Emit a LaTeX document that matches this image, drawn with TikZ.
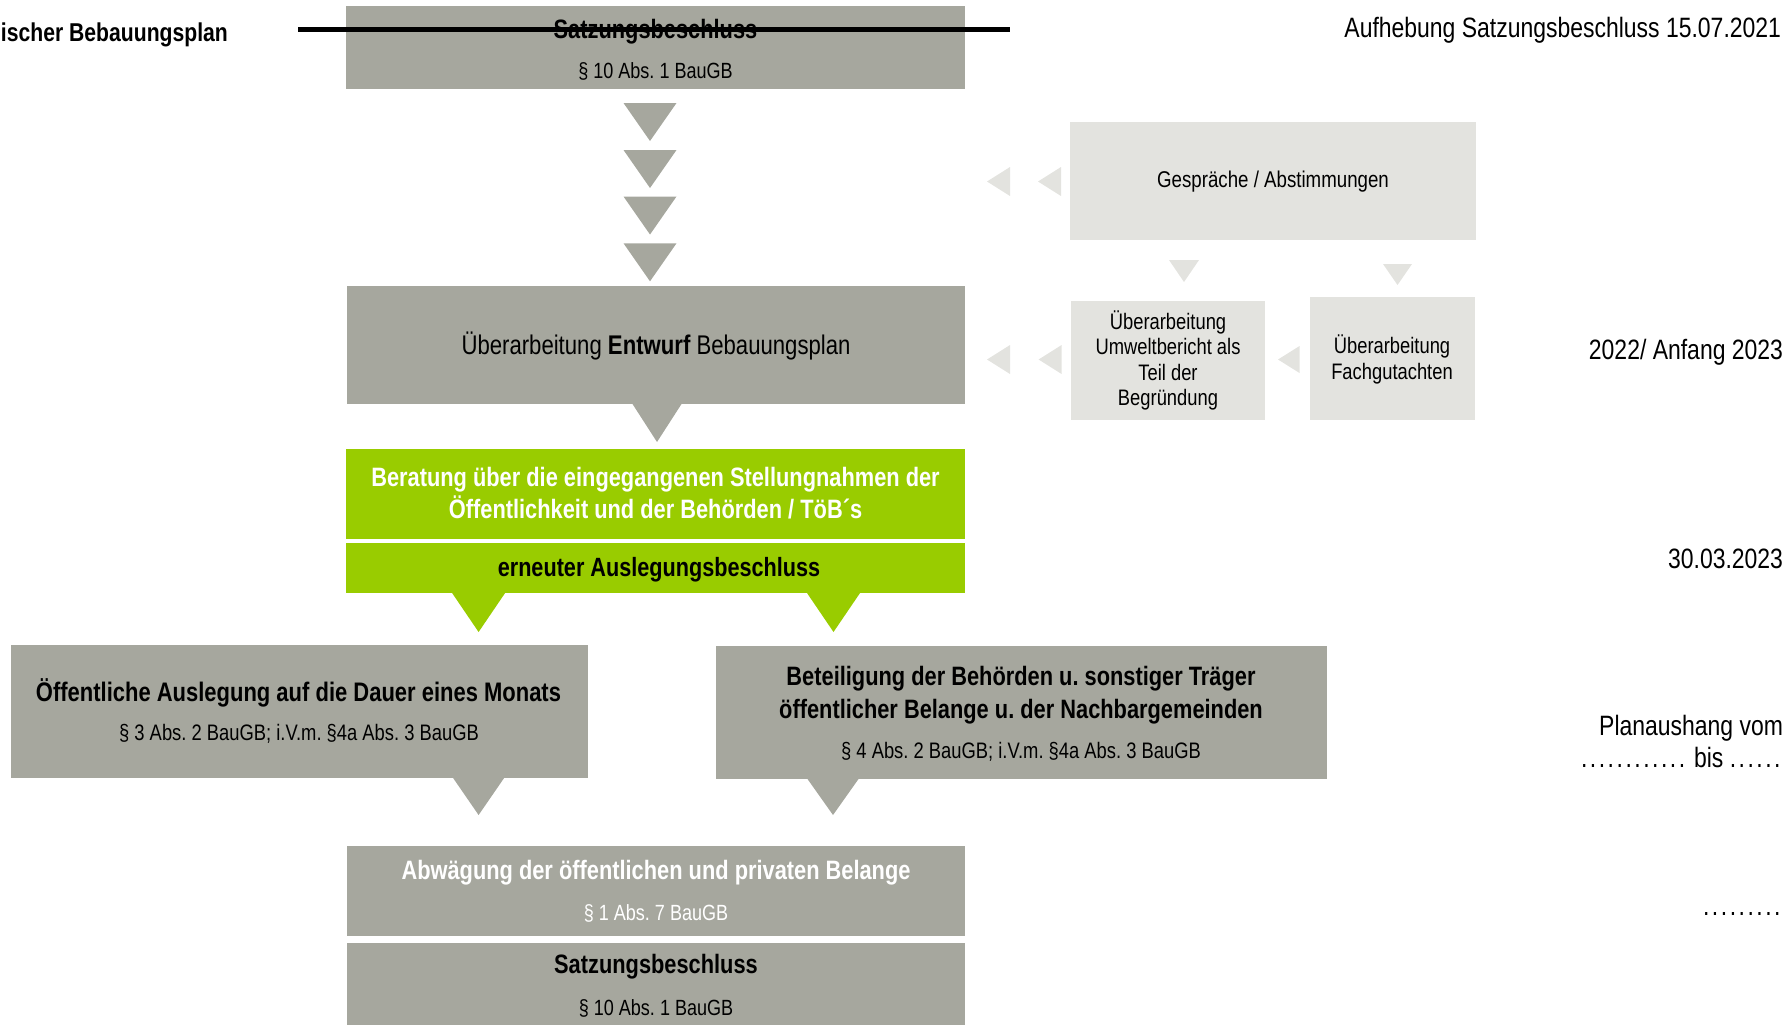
\documentclass[tikz,border=0pt]{standalone}
\usepackage{fontspec}
\setmainfont{Liberation Sans}[FakeStretch=0.82]
\definecolor{boxgray}{RGB}{166,167,158}
\definecolor{grn}{RGB}{153,204,0}
\definecolor{lightg}{RGB}{227,227,223}
\newcommand\dtri[5]{\fill[#1] (#2-#4/2,#3) -- (#2+#4/2,#3) -- (#2,#3+#5) -- cycle;}
\newcommand\ltri[5]{\fill[#1] (#2,#3) -- (#4,#3-#5/2) -- (#4,#3+#5/2) -- cycle;}
\newcommand\dt{.\kern1.25pt}
\begin{document}
\frenchspacing
\begin{tikzpicture}[x=0.5pt,y=-0.5pt,
  every node/.style={inner sep=0pt, outer sep=0pt},
  gb/.style={fill=boxgray},
  gr/.style={fill=grn},
  lb/.style={fill=lightg},
  bt/.style={font=\fontsize{13.3}{16}\selectfont\bfseries, align=center},
  st/.style={font=\fontsize{11}{13}\selectfont, align=center},
  lt/.style={font=\fontsize{11.2}{12.75}\selectfont, align=center},
  rt/.style={font=\fontsize{14}{16}\selectfont, anchor=east, align=right}]
\useasboundingbox (0,0) rectangle (1791,1025);

% top struck box
\node[gb, minimum width=309.5pt, minimum height=41.5pt] (sb1) at (655.5,47.5) {};
\node[bt] (sb1t) at (655.5,31.5) {Satzungsbeschluss};
\node[st] (sb1p) at (655.5,71) {§ 10 Abs. 1 BauGB};
\coordinate (strikeL) at (298,29);
\coordinate (strikeR) at (1010,29);
\draw[line width=2.5pt] (strikeL) -- (strikeR);

\node[bt, font=\fontsize{12.9}{16}\selectfont\bfseries, anchor=west] (title) at (1,34.5) {ischer Bebauungsplan};
\node[rt] (auf) at (1781,30) {Aufhebung Satzungsbeschluss 15.07.2021};

% arrow column
\dtri{boxgray}{650}{103}{53}{38}
\dtri{boxgray}{650}{150}{53}{38}
\dtri{boxgray}{650}{196.5}{53}{38}
\dtri{boxgray}{650}{243.3}{53}{38}

% Entwurf
\node[gb, minimum width=309pt, minimum height=59pt] (entw) at (656,345) {};
\node[font=\fontsize{13.5}{16}\selectfont] (entwt) at (656,346) {Überarbeitung \textbf{Entwurf} Bebauungsplan};
\dtri{boxgray}{657}{404}{49}{38}

% green boxes
\node[gr, minimum width=309.5pt, minimum height=45pt] (ber) at (655.5,494) {};
\node[bt, text=white] (bert) at (655.5,493.5) {Beratung über die eingegangenen Stellungnahmen der\\Öffentlichkeit und der Behörden / TöB´s};
\node[gr, minimum width=309.5pt, minimum height=25.25pt] (aus) at (655.5,567.75) {};
\node[bt, font=\fontsize{13.2}{16}\selectfont\bfseries] (aust) at (659,569.5) {erneuter Auslegungsbeschluss};
\dtri{grn}{478.6}{593}{53}{39}
\dtri{grn}{833.5}{593}{53}{39}

% second row
\node[gb, minimum width=288.5pt, minimum height=66.5pt] (oeff) at (299.5,711.5) {};
\node[bt, font=\fontsize{13.4}{16}\selectfont\bfseries] (oefft) at (298.5,693) {Öffentliche Auslegung auf die Dauer eines Monats};
\node[st, font=\fontsize{11.2}{13}\selectfont] (oeffp) at (299,734) {§ 3 Abs. 2 BauGB; i.V.m. §4a Abs. 3 BauGB};
\node[gb, minimum width=305.5pt, minimum height=66.5pt] (bet) at (1021.5,712.5) {};
\node[bt, font=\fontsize{13.3}{16.5}\selectfont\bfseries] (bett) at (1021,695) {Beteiligung der Behörden u. sonstiger Träger\\öffentlicher Belange u. der Nachbargemeinden};
\node[st, font=\fontsize{11.2}{13}\selectfont] (betp) at (1021,751.4) {§ 4 Abs. 2 BauGB; i.V.m. §4a Abs. 3 BauGB};
\dtri{boxgray}{478.6}{778}{51}{37}
\dtri{boxgray}{833}{779}{51}{36}

% bottom
\node[gb, minimum width=309pt, minimum height=45pt] (abw) at (656,891) {};
\node[bt, text=white] (abwt) at (656,872.5) {Abwägung der öffentlichen und privaten Belange};
\node[st, text=white] (abwp) at (656,913.6) {§ 1 Abs. 7 BauGB};
\node[gb, minimum width=309pt, minimum height=41pt] (sb2) at (656,984) {};
\node[bt] (sb2t) at (656,967) {Satzungsbeschluss};
\node[st] (sb2p) at (656,1008.4) {§ 10 Abs. 1 BauGB};

% right side light boxes
\node[lb, minimum width=203pt, minimum height=59pt] (gesp) at (1273,181) {};
\node[lt, font=\fontsize{11.4}{13}\selectfont] (gespt) at (1273,181.5) {Gespräche / Abstimmungen};
\ltri{lightg}{987}{181.5}{1010}{29}
\ltri{lightg}{1038}{181.5}{1061}{29}
\dtri{lightg}{1184}{260}{30}{22}
\dtri{lightg}{1397.5}{264}{29}{21}
\node[lb, minimum width=97pt, minimum height=59.5pt] (umw) at (1168,360) {};
\node[lt] (umwt) at (1168,360.5) {Überarbeitung\\Umweltbericht als\\Teil der\\Begründung};
\node[lb, minimum width=82.5pt, minimum height=61.5pt] (fach) at (1392.5,358.5) {};
\node[lt, font=\fontsize{11.2}{13}\selectfont] (facht) at (1392,359) {Überarbeitung\\Fachgutachten};
\ltri{lightg}{987}{359.5}{1010}{29}
\ltri{lightg}{1038.6}{359.5}{1061.6}{29}
\ltri{lightg}{1278}{359.5}{1299.5}{27}

% right column dates
\node[rt] (d1) at (1783,352.5) {2022/ Anfang 2023};
\node[rt] (d2) at (1783,558.5) {30.03.2023};
\node[rt] (d3) at (1783,741) {Planaushang vom\\\dt\dt\dt\dt\dt\dt\dt\dt\dt\dt\dt\dt\ bis \dt\dt\dt\dt\dt\dt};
\node[rt] (d4) at (1783,914) {\dt\dt\dt\dt\dt\dt\dt\dt\dt};
\end{tikzpicture}
\end{document}
